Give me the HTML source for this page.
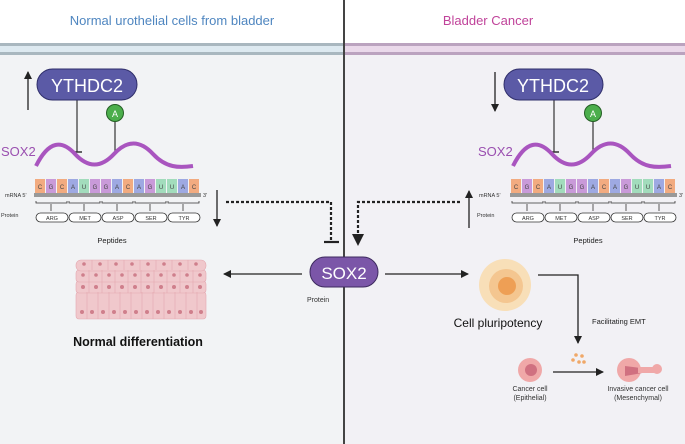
<!DOCTYPE html>
<html><head><meta charset="utf-8"><style>
body{margin:0;background:#fff}
svg{display:block;font-family:"Liberation Sans",sans-serif}
</style></head><body>
<svg width="685" height="444" viewBox="0 0 685 444" xmlns="http://www.w3.org/2000/svg">
<defs>
<marker id="ah" markerWidth="8" markerHeight="8" refX="7" refY="4" orient="auto" markerUnits="userSpaceOnUse"><path d="M0,0 L8,4 L0,8 Z" fill="#222"/></marker>
<marker id="ah2" markerWidth="12" markerHeight="12" refX="10" refY="6" orient="auto" markerUnits="userSpaceOnUse"><path d="M0,0 L12,6 L0,12 Z" fill="#222"/></marker>
</defs>
<rect x="0" y="0" width="685" height="444" fill="#fff"/>
<rect x="0" y="55" width="344" height="389" fill="#f2f3f5"/>
<rect x="344" y="55" width="341" height="389" fill="#f2f1f5"/>
<rect x="0" y="43" width="344" height="12" fill="#a9b7bf"/>
<rect x="0" y="46" width="344" height="6" fill="#dde9f0"/>
<rect x="344" y="43" width="341" height="12" fill="#bba3bf"/>
<rect x="344" y="46" width="341" height="6" fill="#ead9ea"/>
<line x1="344" y1="0" x2="344" y2="444" stroke="#444" stroke-width="2"/>
<text x="172" y="25" text-anchor="middle" font-size="13" fill="#4f86c0">Normal urothelial cells from bladder</text>
<text x="488" y="25" text-anchor="middle" font-size="13" fill="#c0439a">Bladder Cancer</text>

<!-- LEFT top -->
<line x1="28" y1="110" x2="28" y2="72" stroke="#222" stroke-width="1.3" marker-end="url(#ah)"/>
<line x1="77" y1="100" x2="77" y2="152" stroke="#333" stroke-width="1.2"/>
<line x1="72" y1="152" x2="82" y2="152" stroke="#333" stroke-width="1.5"/>
<line x1="115" y1="120" x2="115" y2="153" stroke="#333" stroke-width="1.2"/>
<rect x="37" y="69" width="100" height="31" rx="15.5" fill="#5b5aa6" stroke="#2f2e6a" stroke-width="1"/>
<text x="87" y="92" text-anchor="middle" font-size="18" fill="#fff">YTHDC2</text>
<circle cx="115" cy="113" r="8.5" fill="#4cae4c" stroke="#245e24" stroke-width="1"/>
<text x="115" y="117" text-anchor="middle" font-size="9" fill="#fff">A</text>
<text x="1" y="156" font-size="13" fill="#9a4fb0">SOX2</text>
<path d="M36,170 C49,144 62,144 75,158 C88,172 101,172 114,158 C127,144 140,144 153,158 C166,172 179,172 193,170" fill="none" stroke="#a955bf" stroke-width="4" transform="translate(0,-4)"/>
<g font-size="6" text-anchor="middle" fill="#444">
<g id="nl">
<rect x="35" y="179" width="10" height="14" fill="#f2ab80"/><text x="40" y="189">C</text>
<rect x="46" y="179" width="10" height="14" fill="#c99ad9"/><text x="51" y="189">G</text>
<rect x="57" y="179" width="10" height="14" fill="#f2ab80"/><text x="62" y="189">C</text>
<rect x="68" y="179" width="10" height="14" fill="#9ea9e2"/><text x="73" y="189">A</text>
<rect x="79" y="179" width="10" height="14" fill="#a2dcbc"/><text x="84" y="189">U</text>
<rect x="90" y="179" width="10" height="14" fill="#c99ad9"/><text x="95" y="189">G</text>
<rect x="101" y="179" width="10" height="14" fill="#c99ad9"/><text x="106" y="189">G</text>
<rect x="112" y="179" width="10" height="14" fill="#9ea9e2"/><text x="117" y="189">A</text>
<rect x="123" y="179" width="10" height="14" fill="#f2ab80"/><text x="128" y="189">C</text>
<rect x="134" y="179" width="10" height="14" fill="#9ea9e2"/><text x="139" y="189">A</text>
<rect x="145" y="179" width="10" height="14" fill="#c99ad9"/><text x="150" y="189">G</text>
<rect x="156" y="179" width="10" height="14" fill="#a2dcbc"/><text x="161" y="189">U</text>
<rect x="167" y="179" width="10" height="14" fill="#a2dcbc"/><text x="172" y="189">U</text>
<rect x="178" y="179" width="10" height="14" fill="#9ea9e2"/><text x="183" y="189">A</text>
<rect x="189" y="179" width="10" height="14" fill="#f2ab80"/><text x="194" y="189">C</text>
</g>
</g>
<rect x="34" y="193" width="167" height="4" fill="#999"/>
<text x="5" y="197" font-size="5.5" fill="#333">mRNA  5'</text>
<text x="203" y="197" font-size="5.5" fill="#333">3'</text>
<text x="1" y="217" font-size="5.5" fill="#333">Protein</text>
<g stroke="#333" stroke-width="0.8" fill="none">
<path d="M36,201 v2 h31 v-2 M69,201 v2 h31 v-2 M102,201 v2 h31 v-2 M135,201 v2 h31 v-2 M168,201 v2 h31 v-2"/>
<path d="M51,204 v7 M84,204 v7 M117,204 v7 M150,204 v7 M183,204 v7"/>
<rect x="36" y="213" width="32" height="9" rx="4.5" fill="#fff"/><rect x="69" y="213" width="32" height="9" rx="4.5" fill="#fff"/><rect x="102" y="213" width="32" height="9" rx="4.5" fill="#fff"/><rect x="135" y="213" width="32" height="9" rx="4.5" fill="#fff"/><rect x="168" y="213" width="32" height="9" rx="4.5" fill="#fff"/>
</g>
<g font-size="5.5" text-anchor="middle" fill="#333"><text x="52" y="220">ARG</text><text x="85" y="220">MET</text><text x="118" y="220">ASP</text><text x="151" y="220">SER</text><text x="184" y="220">TYR</text></g>
<text x="112" y="243" text-anchor="middle" font-size="7.5" fill="#222">Peptides</text>
<line x1="217" y1="190" x2="217" y2="226" stroke="#222" stroke-width="1.3" marker-end="url(#ah)"/>
<path d="M226,202 H331 V241" fill="none" stroke="#222" stroke-width="2.2" stroke-dasharray="3,2"/>
<line x1="324" y1="242" x2="339" y2="242" stroke="#222" stroke-width="2.2"/>

<!-- RIGHT top -->
<line x1="495" y1="72" x2="495" y2="111" stroke="#222" stroke-width="1.3" marker-end="url(#ah)"/>
<line x1="554" y1="100" x2="554" y2="152" stroke="#333" stroke-width="1.2"/>
<line x1="549" y1="152" x2="559" y2="152" stroke="#333" stroke-width="1.5"/>
<line x1="593" y1="120" x2="593" y2="153" stroke="#333" stroke-width="1.2"/>
<rect x="504" y="69" width="99" height="31" rx="15.5" fill="#5b5aa6" stroke="#2f2e6a" stroke-width="1"/>
<text x="553" y="92" text-anchor="middle" font-size="18" fill="#fff">YTHDC2</text>
<circle cx="593" cy="113" r="8.5" fill="#4cae4c" stroke="#245e24" stroke-width="1"/>
<text x="593" y="117" text-anchor="middle" font-size="9" fill="#fff">A</text>
<text x="478" y="156" font-size="13" fill="#9a4fb0">SOX2</text>
<path d="M513,170 C526,144 539,144 552,158 C565,172 578,172 591,158 C604,144 617,144 630,158 C643,172 656,172 671,170" fill="none" stroke="#a955bf" stroke-width="4" transform="translate(0,-4)"/>
<g font-size="6" text-anchor="middle" fill="#444" transform="translate(476,0)">
<rect x="35" y="179" width="10" height="14" fill="#f2ab80"/><text x="40" y="189">C</text>
<rect x="46" y="179" width="10" height="14" fill="#c99ad9"/><text x="51" y="189">G</text>
<rect x="57" y="179" width="10" height="14" fill="#f2ab80"/><text x="62" y="189">C</text>
<rect x="68" y="179" width="10" height="14" fill="#9ea9e2"/><text x="73" y="189">A</text>
<rect x="79" y="179" width="10" height="14" fill="#a2dcbc"/><text x="84" y="189">U</text>
<rect x="90" y="179" width="10" height="14" fill="#c99ad9"/><text x="95" y="189">G</text>
<rect x="101" y="179" width="10" height="14" fill="#c99ad9"/><text x="106" y="189">G</text>
<rect x="112" y="179" width="10" height="14" fill="#9ea9e2"/><text x="117" y="189">A</text>
<rect x="123" y="179" width="10" height="14" fill="#f2ab80"/><text x="128" y="189">C</text>
<rect x="134" y="179" width="10" height="14" fill="#9ea9e2"/><text x="139" y="189">A</text>
<rect x="145" y="179" width="10" height="14" fill="#c99ad9"/><text x="150" y="189">G</text>
<rect x="156" y="179" width="10" height="14" fill="#a2dcbc"/><text x="161" y="189">U</text>
<rect x="167" y="179" width="10" height="14" fill="#a2dcbc"/><text x="172" y="189">U</text>
<rect x="178" y="179" width="10" height="14" fill="#9ea9e2"/><text x="183" y="189">A</text>
<rect x="189" y="179" width="10" height="14" fill="#f2ab80"/><text x="194" y="189">C</text>
</g>
<g transform="translate(476,0)">
<rect x="34" y="193" width="167" height="4" fill="#999"/>
<text x="203" y="197" font-size="5.5" fill="#333">3'</text>
<g stroke="#333" stroke-width="0.8" fill="none">
<path d="M36,201 v2 h31 v-2 M69,201 v2 h31 v-2 M102,201 v2 h31 v-2 M135,201 v2 h31 v-2 M168,201 v2 h31 v-2"/>
<path d="M51,204 v7 M84,204 v7 M117,204 v7 M150,204 v7 M183,204 v7"/>
<rect x="36" y="213" width="32" height="9" rx="4.5" fill="#fff"/><rect x="69" y="213" width="32" height="9" rx="4.5" fill="#fff"/><rect x="102" y="213" width="32" height="9" rx="4.5" fill="#fff"/><rect x="135" y="213" width="32" height="9" rx="4.5" fill="#fff"/><rect x="168" y="213" width="32" height="9" rx="4.5" fill="#fff"/>
</g>
<g font-size="5.5" text-anchor="middle" fill="#333"><text x="52" y="220">ARG</text><text x="85" y="220">MET</text><text x="118" y="220">ASP</text><text x="151" y="220">SER</text><text x="184" y="220">TYR</text></g>
<text x="112" y="243" text-anchor="middle" font-size="7.5" fill="#222">Peptides</text>
</g>
<text x="479" y="197" font-size="5.5" fill="#333">mRNA  5'</text>
<text x="477" y="217" font-size="5.5" fill="#333">Protein</text>
<line x1="469" y1="228" x2="469" y2="191" stroke="#222" stroke-width="1.3" marker-end="url(#ah)"/>
<path d="M460,202 H358 V236" fill="none" stroke="#222" stroke-width="2.2" stroke-dasharray="3,2"/>
<path d="M352,234 L364,234 L358,246 Z" fill="#222"/>

<!-- center SOX2 -->
<rect x="310" y="257" width="68" height="30" rx="15" fill="#7b56a8" stroke="#3d2a5e" stroke-width="1"/>
<text x="344" y="279" text-anchor="middle" font-size="17" fill="#fff">SOX2</text>
<text x="307" y="302" font-size="7" fill="#333">Protein</text>
<line x1="302" y1="274" x2="224" y2="274" stroke="#222" stroke-width="1.3" marker-end="url(#ah)"/>
<line x1="385" y1="274" x2="468" y2="274" stroke="#222" stroke-width="1.3" marker-end="url(#ah)"/>

<!-- epithelium -->
<g fill="#f0c8cc" stroke="#e4a8b0" stroke-width="0.6">
<rect x="76" y="292" width="130" height="27" rx="3"/>
<rect x="76" y="281" width="130" height="12" rx="3"/>
<rect x="76" y="270" width="130" height="12" rx="3"/>
<rect x="76" y="260" width="130" height="11" rx="5"/>
</g>
<g stroke="#e4a8b0" stroke-width="0.6">
<path d="M87,292v27M98,292v27M109,292v27M120,292v27M131,292v27M142,292v27M153,292v27M164,292v27M175,292v27M186,292v27M197,292v27"/>
<path d="M89,270v23M102,270v23M115,270v23M128,270v23M141,270v23M154,270v23M167,270v23M180,270v23M193,270v23"/>
<path d="M92,260v10M108,260v10M124,260v10M140,260v10M156,260v10M172,260v10M188,260v10"/>
</g>
<g fill="#cf7f8c">
<circle cx="82" cy="312" r="2"/><circle cx="92" cy="312" r="2"/><circle cx="103" cy="312" r="2"/><circle cx="114" cy="312" r="2"/><circle cx="125" cy="312" r="2"/><circle cx="136" cy="312" r="2"/><circle cx="147" cy="312" r="2"/><circle cx="158" cy="312" r="2"/><circle cx="169" cy="312" r="2"/><circle cx="180" cy="312" r="2"/><circle cx="191" cy="312" r="2"/><circle cx="201" cy="312" r="2"/>
<circle cx="83" cy="287" r="2"/><circle cx="96" cy="287" r="2"/><circle cx="109" cy="287" r="2"/><circle cx="122" cy="287" r="2"/><circle cx="135" cy="287" r="2"/><circle cx="148" cy="287" r="2"/><circle cx="161" cy="287" r="2"/><circle cx="174" cy="287" r="2"/><circle cx="187" cy="287" r="2"/><circle cx="200" cy="287" r="2"/>
<circle cx="83" cy="275" r="1.8"/><circle cx="96" cy="275" r="1.8"/><circle cx="109" cy="275" r="1.8"/><circle cx="122" cy="275" r="1.8"/><circle cx="135" cy="275" r="1.8"/><circle cx="148" cy="275" r="1.8"/><circle cx="161" cy="275" r="1.8"/><circle cx="174" cy="275" r="1.8"/><circle cx="187" cy="275" r="1.8"/><circle cx="200" cy="275" r="1.8"/>
<circle cx="84" cy="264" r="1.8"/><circle cx="100" cy="264" r="1.8"/><circle cx="116" cy="264" r="1.8"/><circle cx="132" cy="264" r="1.8"/><circle cx="148" cy="264" r="1.8"/><circle cx="164" cy="264" r="1.8"/><circle cx="180" cy="264" r="1.8"/><circle cx="196" cy="264" r="1.8"/>
</g>
<text x="138" y="346" text-anchor="middle" font-size="12.5" font-weight="bold" fill="#111">Normal differentiation</text>

<!-- pluripotency -->
<circle cx="505" cy="285" r="26" fill="#f8dfb8"/>
<circle cx="506" cy="286" r="17" fill="#f4c690"/>
<circle cx="507" cy="286" r="9" fill="#ee9f55"/>
<text x="498" y="327" text-anchor="middle" font-size="12" fill="#111">Cell pluripotency</text>
<path d="M538,275 H578 V343" fill="none" stroke="#222" stroke-width="1.3" marker-end="url(#ah)"/>
<text x="592" y="324" font-size="7.5" fill="#222">Facilitating EMT</text>
<g fill="#f0a868"><circle cx="576" cy="355" r="1.8"/><circle cx="582" cy="356" r="1.8"/><circle cx="573" cy="360" r="1.8"/><circle cx="579" cy="362" r="1.8"/><circle cx="584" cy="362" r="1.8"/></g>
<circle cx="530" cy="370" r="12" fill="#f0a8a8"/>
<circle cx="531" cy="370" r="6" fill="#d07080"/>
<line x1="553" y1="372" x2="603" y2="372" stroke="#222" stroke-width="1.3" marker-end="url(#ah)"/>
<circle cx="629" cy="370" r="12" fill="#f0a8a8"/>
<path d="M625,366 L648,369 L648,372 L625,376 Z" fill="#d07080"/>
<rect x="638" y="367" width="16" height="6" fill="#f0a8a8"/>
<circle cx="657" cy="369" r="5" fill="#f0a8a8"/>
<text x="530" y="391" text-anchor="middle" font-size="7" fill="#333">Cancer cell</text>
<text x="530" y="400" text-anchor="middle" font-size="7" fill="#333">(Epithelial)</text>
<text x="638" y="391" text-anchor="middle" font-size="7" fill="#333">Invasive cancer cell</text>
<text x="638" y="400" text-anchor="middle" font-size="7" fill="#333">(Mesenchymal)</text>
</svg>
</body></html>
